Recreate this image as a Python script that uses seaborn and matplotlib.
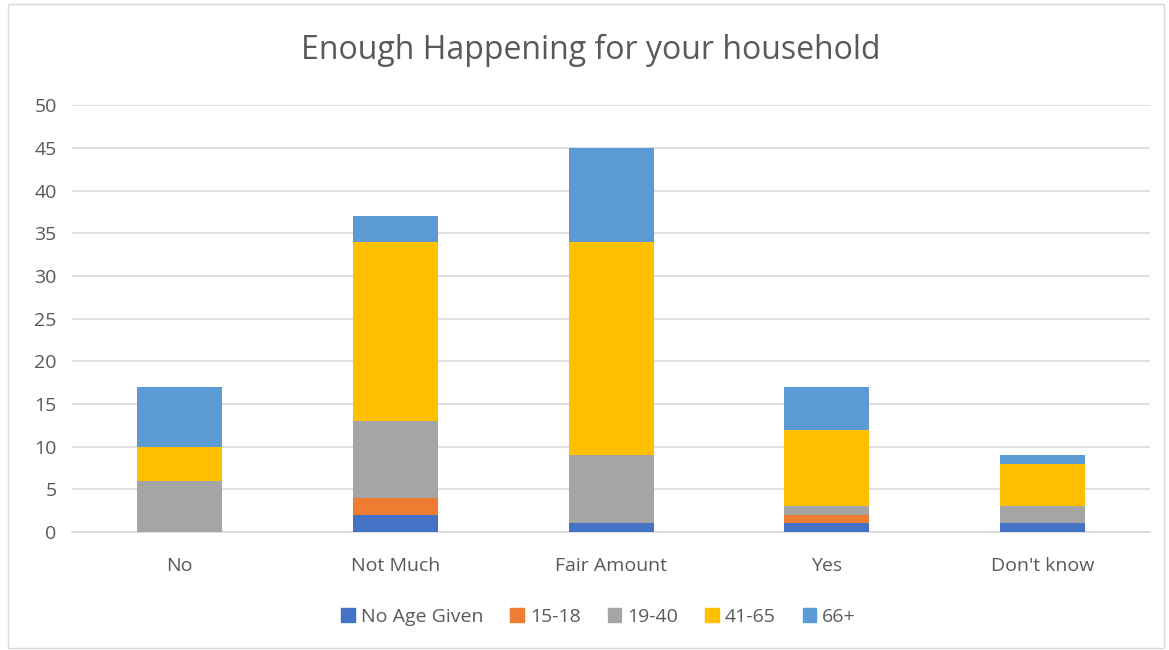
import matplotlib
matplotlib.use("Agg")
import matplotlib.pyplot as plt
import matplotlib.patches as mpatches
import numpy as np
import pandas as pd
import seaborn as sns

categories = ["No", "Not Much", "Fair Amount", "Yes", "Don't know"]
series_names = ["No Age Given", "15-18", "19-40", "41-65", "66+"]
no_age = [0, 2, 1, 1, 1]
age_15_18 = [0, 2, 0, 1, 0]
age_19_40 = [6, 9, 8, 1, 2]
age_41_65 = [4, 21, 25, 9, 5]
age_66 = [7, 3, 11, 5, 1]
colors = ["#4472C4", "#ED7D31", "#A5A5A5", "#FFC000", "#5B9BD5"]

sns.set_theme(style="white")
plt.rcParams['font.family'] = ['Open Sans', 'DejaVu Sans']
text_color = "#595959"

fig = plt.figure(figsize=(11.69, 6.5), dpi=100)
ax = fig.add_axes([0.0616, 0.1815, 0.9224, 0.6565])

layers = [no_age, age_15_18, age_19_40, age_41_65, age_66]
cum = np.cumsum(np.array(layers), axis=0)

# draw from the top layer down so each shorter bar covers the one behind it
for i in range(len(layers) - 1, -1, -1):
    df = pd.DataFrame({"cat": categories, "val": cum[i]})
    sns.barplot(data=df, x="cat", y="val", color=colors[i], width=0.395,
                saturation=1, ax=ax, edgecolor="none", zorder=3)

ax.set_ylim(0, 50)
ax.set_yticks(range(0, 51, 5))
ax.set_xlim(-0.5, 4.5)
ax.yaxis.grid(True, color="#D9D9D9", linewidth=1.2, zorder=0)
ax.set_axisbelow(True)
for s in ["top", "right", "left"]:
    ax.spines[s].set_visible(False)
ax.spines["bottom"].set_color("#D9D9D9")
ax.spines["bottom"].set_linewidth(1.2)
ax.set_xlabel("")
ax.set_ylabel("")
ax.tick_params(axis="both", length=0, labelsize=14, colors=text_color)
ax.tick_params(axis="y", pad=11)
ax.tick_params(axis="x", pad=18)

fig.text(0.505, 0.922, "Enough Happening for your household", ha="center",
         va="center", fontsize=23, color=text_color)

handles = [mpatches.Patch(color=c, label=n) for c, n in zip(colors, series_names)]
fig.legend(handles=handles, loc="center", bbox_to_anchor=(0.512, 0.051), ncol=5,
           frameon=False, fontsize=14, labelcolor=text_color, handlelength=0.7,
           handleheight=0.7, handletextpad=0.3, columnspacing=1.4)

fig.add_artist(mpatches.Rectangle((0.007, 0.003), 0.989, 0.991,
                                  transform=fig.transFigure, fill=False,
                                  edgecolor="#D9D9D9", linewidth=1))

fig.savefig("out.png", dpi=100)
